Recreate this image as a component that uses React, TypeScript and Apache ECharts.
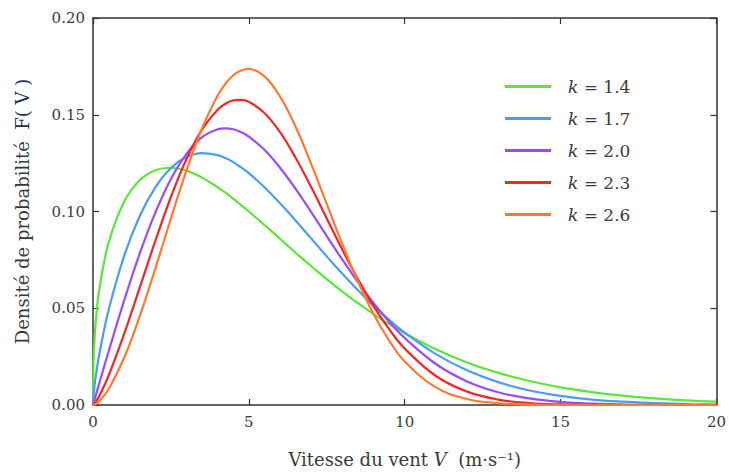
import React, { useEffect, useRef } from "react";
import * as echarts from "echarts";

const xs = [0, 0.02, 0.05, 0.1, 0.2, 0.5, 1, 1.5, 2, 2.5, 3, 3.5, 4, 4.25, 4.5, 4.75, 5, 5.5, 6, 6.5, 7, 7.5, 8, 8.5, 9, 9.5, 10, 11, 12, 13, 14, 15, 16, 17, 18, 19, 20];
const k14 = [0, 0.0238, 0.0343, 0.0452, 0.0593, 0.0837, 0.105, 0.1161, 0.1213, 0.1226, 0.1211, 0.1175, 0.1125, 0.1097, 0.1066, 0.1033, 0.1, 0.093, 0.0859, 0.0787, 0.0718, 0.065, 0.0586, 0.0526, 0.047, 0.0418, 0.0371, 0.0288, 0.022, 0.0166, 0.0124, 0.0091, 0.0067, 0.0048, 0.0034, 0.0024, 0.0017];
const k17 = [0, 0.0052, 0.0099, 0.0161, 0.0261, 0.049, 0.0771, 0.0977, 0.1125, 0.1225, 0.1282, 0.1302, 0.1291, 0.1276, 0.1255, 0.1228, 0.1198, 0.1125, 0.1042, 0.0953, 0.086, 0.0768, 0.0678, 0.0593, 0.0513, 0.044, 0.0374, 0.0263, 0.0179, 0.0118, 0.0075, 0.0047, 0.0028, 0.0017, 0.001, 0.0005, 0.0003];
const k20 = [0, 0.0011, 0.0028, 0.0056, 0.0111, 0.0276, 0.054, 0.0783, 0.0994, 0.1168, 0.1298, 0.1384, 0.1425, 0.143, 0.1425, 0.141, 0.1387, 0.1319, 0.1226, 0.1117, 0.0997, 0.0873, 0.0751, 0.0635, 0.0527, 0.043, 0.0346, 0.0212, 0.0122, 0.0066, 0.0034, 0.0016, 0.0007, 0.0003, 0.0001, 0, 0];
const k23 = [0, 0.0002, 0.0008, 0.0019, 0.0046, 0.0151, 0.0367, 0.0607, 0.0848, 0.1075, 0.1271, 0.1424, 0.1526, 0.1557, 0.1574, 0.1577, 0.1567, 0.1509, 0.141, 0.1278, 0.1126, 0.0964, 0.0802, 0.065, 0.0511, 0.0392, 0.0292, 0.015, 0.0069, 0.0028, 0.001, 0.0003, 0.0001, 0, 0, 0, 0];
const k26 = [0, 0.0001, 0.0002, 0.0006, 0.0019, 0.0081, 0.0244, 0.0459, 0.0705, 0.0964, 0.1212, 0.143, 0.1599, 0.166, 0.1704, 0.1729, 0.1737, 0.1698, 0.1594, 0.1438, 0.1246, 0.1038, 0.083, 0.0638, 0.047, 0.0333, 0.0225, 0.0091, 0.0031, 0.0009, 0.0002, 0, 0, 0, 0, 0, 0];

const seriesNames = ["k = 1.4", "k = 1.7", "k = 2.0", "k = 2.3", "k = 2.6"];
const seriesValues = [k14, k17, k20, k23, k26];
const colors = ["#5ce53a", "#4c9cf2", "#9b4cf2", "#f0282c", "#ff7a2e"];

const FONT = "DejaVu Serif";
const TEXT = "#3a3a3a";

export default function App() {
  const ref = useRef<HTMLDivElement>(null);
  useEffect(() => {
    if (!ref.current) return;
    const chart = echarts.init(ref.current, undefined, { renderer: "svg" });
    const axisLine = { show: true, onZero: false, lineStyle: { color: "#333", width: 1.5 } };
    const axisTick = { show: true, inside: true, length: 6, lineStyle: { color: "#333", width: 1.2 } };
    chart.setOption({
      animation: false,
      backgroundColor: "#fff",
      grid: { left: 93, right: 10, top: 18, bottom: 69 },
      legend: {
        orient: "vertical",
        left: 505,
        top: 78,
        padding: 0,
        icon: "rect",
        itemWidth: 46,
        itemHeight: 3,
        itemGap: 15,
        data: seriesNames,
        formatter: (n: string) => n.replace("k", "{i|k}"),
        textStyle: {
          fontFamily: FONT,
          fontSize: 17,
          color: TEXT,
          padding: [0, 0, 0, 12],
          rich: { i: { fontStyle: "italic", fontFamily: FONT, fontSize: 17, color: TEXT } },
        },
      },
      xAxis: [
        {
          type: "value",
          min: 0,
          max: 20,
          interval: 5,
          axisLine,
          axisTick,
          splitLine: { show: false },
          axisLabel: { fontFamily: FONT, fontSize: 15, color: TEXT, margin: 9 },
          name: "Vitesse du vent {i|V}  (m·s⁻¹)",
          nameLocation: "middle",
          nameGap: 45,
          nameTextStyle: {
            fontFamily: FONT,
            fontSize: 18,
            color: TEXT,
            rich: { i: { fontStyle: "italic", fontFamily: FONT, fontSize: 18, color: TEXT } },
          },
        },
        {
          type: "value",
          position: "top",
          min: 0,
          max: 20,
          interval: 5,
          axisLine,
          axisTick,
          axisLabel: { show: false },
          splitLine: { show: false },
        },
      ],
      yAxis: [
        {
          type: "value",
          min: 0,
          max: 0.2,
          interval: 0.05,
          axisLine,
          axisTick,
          splitLine: { show: false },
          axisLabel: {
            fontFamily: FONT,
            fontSize: 15,
            color: TEXT,
            margin: 8,
            formatter: (v: number) => v.toFixed(2),
          },
          name: "Densité de probabilité  {b|F( V )}",
          nameLocation: "middle",
          nameGap: 62,
          nameTextStyle: {
            fontFamily: FONT,
            fontSize: 18,
            color: TEXT,
            rich: { b: { fontFamily: FONT, fontSize: 18, color: "#232a48" } },
          },
        },
        {
          type: "value",
          position: "right",
          min: 0,
          max: 0.2,
          interval: 0.05,
          axisLine,
          axisTick,
          axisLabel: { show: false },
          splitLine: { show: false },
        },
      ],
      series: seriesNames.map((name, i) => ({
        name,
        type: "line",
        xAxisIndex: 0,
        yAxisIndex: 0,
        data: xs.map((x, j) => [x, seriesValues[i][j]]),
        showSymbol: false,
        symbol: "none",
        smooth: 0.4,
        lineStyle: { color: colors[i], width: 2.2 },
        itemStyle: { color: colors[i] },
      })),
    });
    return () => chart.dispose();
  }, []);
  return <div ref={ref} style={{ position: "fixed", left: 0, top: 0, width: 729, height: 474 }} />;
}
